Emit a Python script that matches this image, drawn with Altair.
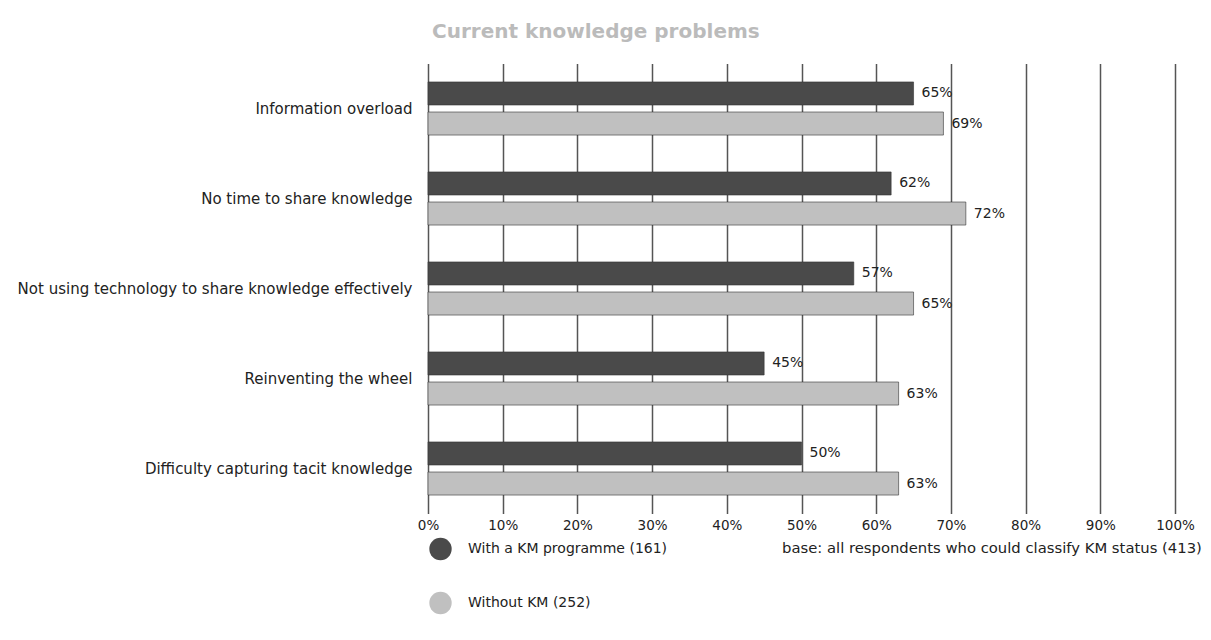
import altair as alt
import pandas as pd

categories = [
    "Information overload",
    "No time to share knowledge",
    "Not using technology to share knowledge effectively",
    "Reinventing the wheel",
    "Difficulty capturing tacit knowledge",
]
series = ["With a KM programme (161)", "Without KM (252)"]
with_km = [65, 62, 57, 45, 50]
without_km = [69, 72, 65, 63, 63]
tick_values = [0, 10, 20, 30, 40, 50, 60, 70, 80, 90, 100]
title_text = "Current knowledge problems"
note_text = "base: all respondents who could classify KM status (413)"

rows = []
for c, a, b in zip(categories, with_km, without_km):
    rows.append({"category": c, "series": series[0], "value": a})
    rows.append({"category": c, "series": series[1], "value": b})
df = pd.DataFrame(rows)

FONT = "DejaVu Sans"
TXT = "#222222"

y_enc = alt.Y(
    "category:N",
    sort=categories,
    scale=alt.Scale(paddingInner=0.41, paddingOuter=0.205),
    axis=alt.Axis(
        title=None, ticks=False, domain=False, grid=False, labelFontSize=15,
        labelColor=TXT, labelPadding=16, labelFont=FONT, labelLimit=600,
    ),
)
yoff_enc = alt.YOffset("series:N", sort=series, scale=alt.Scale(paddingInner=0.233))
x_enc = alt.X(
    "value:Q",
    scale=alt.Scale(domain=[0, 100]),
    axis=alt.Axis(
        values=tick_values, title=None, grid=True, gridColor="#555555", gridWidth=1.5,
        domain=False, ticks=False, labelExpr="datum.value + '%'", labelFontSize=13.5,
        labelFont=FONT, labelColor=TXT, labelPadding=5, labelFlush=False,
    ),
)

base = alt.Chart(df).encode(y=y_enc, yOffset=yoff_enc)

bars = base.mark_bar(stroke="#333333", strokeWidth=0.6).encode(
    x=x_enc,
    color=alt.Color(
        "series:N",
        sort=series,
        scale=alt.Scale(domain=series, range=["#4a4a4a", "#c0c0c0"]),
        legend=alt.Legend(
            title=None, orient="none", legendX=1, legendY=474, direction="vertical",
            symbolType="circle", symbolSize=500, symbolStrokeWidth=0,
            labelFontSize=14, labelFont=FONT, labelColor=TXT, labelLimit=600,
            labelOffset=16, rowPadding=31, padding=0,
        ),
    ),
)

labels = base.transform_calculate(label="datum.value + '%'").mark_text(
    align="left", baseline="middle", dx=8, fontSize=14, font=FONT, color=TXT
).encode(x=x_enc, text="label:N")

note = alt.Chart(pd.DataFrame({"t": [note_text]})).mark_text(
    align="left", baseline="middle", fontSize=14.8, font=FONT, color=TXT
).encode(text="t:N", x=alt.value(354), y=alt.value(485.5))

chart = (
    alt.layer(bars, labels, note)
    .properties(
        width=747,
        height=450,
        background="white",
        title=alt.TitleParams(
            title_text, anchor="start", frame="group", dx=4, offset=22, fontSize=20,
            font=FONT, fontWeight="bold", color="#bbbbbb",
        ),
        autosize=alt.AutoSizeParams(type="none"),
        padding={"left": 428, "top": 63.5, "right": 36, "bottom": 126.5},
    )
    .configure_view(strokeWidth=0, stroke="transparent")
    .configure_axis(domain=False)
)

chart.save("out.html", embed_options={"renderer": "svg", "actions": False})
